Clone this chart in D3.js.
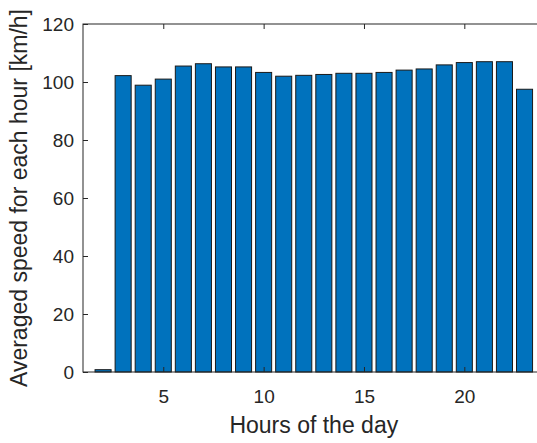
<!DOCTYPE html>
<html>
<head>
<meta charset="utf-8">
<script src="https://cdn.jsdelivr.net/npm/d3@7"></script>
<style>
  html, body { margin: 0; padding: 0; background: #fff; }
  svg { display: block; }
  text { font-family: "Liberation Sans", Arial, Helvetica, sans-serif; fill: #262626; }
</style>
</head>
<body>
<div id="chart"></div>
<script>
const hours = [2, 3, 4, 5, 6, 7, 8, 9, 10, 11, 12, 13, 14, 15, 16, 17, 18, 19, 20, 21, 22, 23];
const speeds = [0.8, 102.2, 98.9, 101.0, 105.5, 106.3, 105.2, 105.2, 103.3, 102.0, 102.3, 102.6, 103.0, 103.0, 103.3, 104.1, 104.5, 105.9, 106.7, 107.0, 107.0, 97.5];
const xTicks = [5, 10, 15, 20];
const yTicks = [0, 20, 40, 60, 80, 100, 120];
const xLabel = "Hours of the day";
const yLabel = "Averaged speed for each hour [km/h]";

const W = 537, H = 443;
const m = { left: 83, top: 24, right: 544.6, bottom: 372 };

const svg = d3.select("#chart").append("svg").attr("width", W).attr("height", H);

const x = d3.scaleLinear().domain([1, 24]).range([m.left, m.right]);
const y = d3.scaleLinear().domain([0, 120]).range([m.bottom, m.top]);
const barW = 0.8;

// bars
svg.append("g").selectAll("rect").data(hours.map((h, i) => ({ h, v: speeds[i] })))
  .join("rect")
  .attr("x", d => x(d.h - barW / 2))
  .attr("width", d => x(d.h + barW / 2) - x(d.h - barW / 2))
  .attr("y", d => y(d.v))
  .attr("height", d => y(0) - y(d.v))
  .attr("fill", "#0072BD")
  .attr("stroke", "#1a1a1a")
  .attr("stroke-width", 1);

const axisColor = "#262626";
const tickLen = 5;

// box
svg.append("rect")
  .attr("x", m.left).attr("y", m.top)
  .attr("width", m.right - m.left).attr("height", m.bottom - m.top)
  .attr("fill", "none").attr("stroke", axisColor).attr("stroke-width", 1);

// axes with inward ticks
const xBottom = svg.append("g").attr("transform", `translate(0,${m.bottom})`)
  .call(d3.axisBottom(x).tickValues(xTicks).tickSizeInner(-tickLen).tickSizeOuter(0).tickPadding(14));
const xTop = svg.append("g").attr("transform", `translate(0,${m.top})`)
  .call(d3.axisTop(x).tickValues(xTicks).tickSizeInner(-tickLen).tickSizeOuter(0).tickFormat(""));
const yLeft = svg.append("g").attr("transform", `translate(${m.left},0)`)
  .call(d3.axisLeft(y).tickValues(yTicks).tickSizeInner(-tickLen).tickSizeOuter(0).tickPadding(9));

[xBottom, xTop, yLeft].forEach(g => {
  g.select(".domain").remove();
  g.selectAll(".tick line").attr("stroke", axisColor);
  g.selectAll(".tick text").attr("fill", axisColor).style("font-size", "19px")
    .style("font-family", '"Liberation Sans", Arial, Helvetica, sans-serif');
});
xBottom.selectAll(".tick text").attr("dy", null).attr("y", null)
  .attr("transform", "translate(0,31)");
yLeft.selectAll(".tick text").attr("dy", "0.35em");

// axis labels
svg.append("text")
  .attr("x", (m.left + m.right) / 2).attr("y", 433)
  .attr("text-anchor", "middle")
  .style("font-size", "23px")
  .text(xLabel);

svg.append("text")
  .attr("transform", `translate(27,${(m.top + m.bottom) / 2}) rotate(-90)`)
  .attr("text-anchor", "middle")
  .style("font-size", "23px")
  .text(yLabel);
</script>
</body>
</html>
